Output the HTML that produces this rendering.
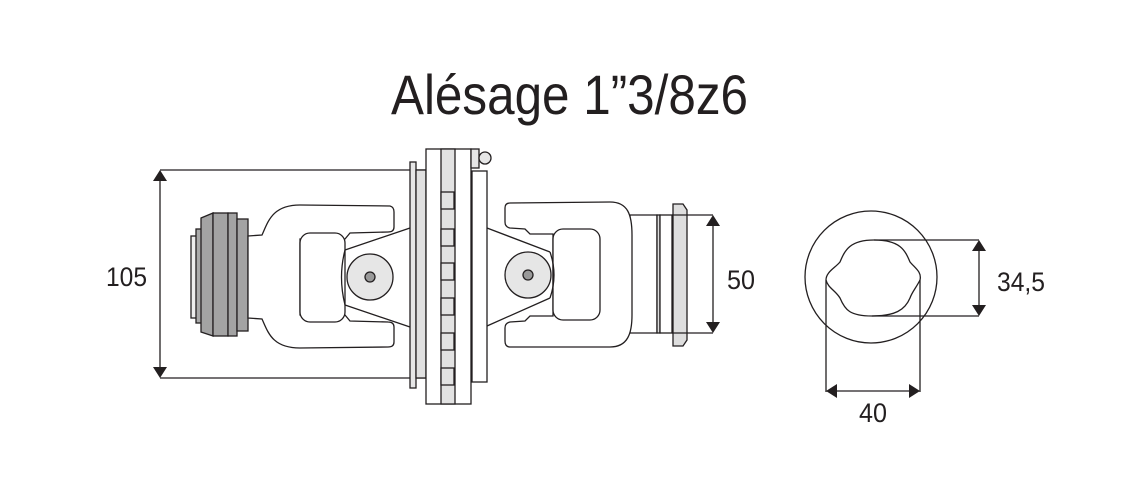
<!DOCTYPE html>
<html><head><meta charset="utf-8"><style>html,body{margin:0;padding:0;background:#fff}svg{display:block}</style></head>
<body>
<svg width="1140" height="500" viewBox="0 0 1140 500" xmlns="http://www.w3.org/2000/svg" font-family="Liberation Sans, sans-serif">
<rect width="1140" height="500" fill="#fff"/>
<text x="391" y="114" font-size="56" textLength="357" lengthAdjust="spacingAndGlyphs" fill="#231f20">Alésage 1”3/8z6</text>
<g stroke="#231f20" stroke-width="1.3" fill="none">
<line x1="160" y1="170" x2="426" y2="170"/>
<line x1="160" y1="378" x2="426" y2="378"/>
<line x1="160" y1="180" x2="160" y2="368"/>
<rect x="191" y="236" width="6" height="82" fill="#eee"/>
<rect x="196" y="229" width="6" height="94" fill="#aaa"/>
<path d="M201 218 L213 213 L213 336 L201 332 Z" fill="#a3a3a3"/>
<rect x="213" y="213" width="15" height="123" fill="#a3a3a3"/>
<rect x="228" y="213" width="9" height="123" fill="#a3a3a3"/>
<rect x="237" y="219" width="11" height="112" fill="#a3a3a3"/>
<path d="M248 236 L262 235 C268 222 272 205 300 205 L390 206 Q394 207 394 212 L394 227 Q394 232 388 232 L350 233 L345 239 L300 239 L300 315 L345 315 L350 321 L388 322 Q394 322 394 327 L394 342 Q394 347 388 347 L300 348 C272 348 268 332 262 319 L248 318 Z" fill="#fff"/>
<rect x="300" y="233" width="45" height="89" rx="10" fill="#fff"/>
<path d="M345 250 L410 228 M345 305 L410 327"/>
<path d="M345 250 Q338 277 345 305" />
<circle cx="370" cy="277" r="23" fill="#e6e6e6"/>
<circle cx="370" cy="277" r="5" fill="#999"/>
<rect x="410" y="162" width="6" height="226" fill="#e6e6e6"/>
<rect x="416" y="170" width="10" height="208" fill="#e0e0e0"/>
<rect x="426" y="149" width="45" height="255" fill="#fff"/>
<rect x="441" y="149" width="14" height="255" fill="#e2e2e2"/>
<rect x="441" y="192" width="13" height="17" fill="#e2e2e2"/>
<rect x="441" y="229" width="13" height="17" fill="#e2e2e2"/>
<rect x="441" y="263" width="13" height="17" fill="#e2e2e2"/>
<rect x="441" y="298" width="13" height="17" fill="#e2e2e2"/>
<rect x="441" y="333" width="13" height="17" fill="#e2e2e2"/>
<rect x="441" y="368" width="13" height="17" fill="#e2e2e2"/>
<rect x="471" y="149" width="8" height="19" fill="#e6e6e6"/>
<circle cx="485" cy="158" r="6" fill="#e6e6e6"/>
<rect x="472" y="171" width="15" height="211" fill="#fff"/>
<path d="M630 215 L657 215 L657 333 L630 333 Z" fill="#fff"/>
<path d="M510 203 L610 202 C628 202 632 215 632 235 L632 315 C632 333 628 347 610 347 L510 347 Q505 347 505 341 L505 328 Q505 323 510 322 L525 321 L530 316 L553 316 L553 234 L530 234 L525 229 L510 228 Q505 227 505 222 L505 208 Q505 203 510 203 Z" fill="#fff"/>
<rect x="553" y="229" width="47" height="91" rx="10" fill="#fff"/>
<path d="M487 228 L550 252 M487 326 L550 298"/>
<path d="M550 252 Q558 275 550 298"/>
<circle cx="528" cy="275" r="23" fill="#e6e6e6"/>
<circle cx="528" cy="275" r="5" fill="#999"/>
<rect x="657" y="215" width="3" height="118" fill="#ddd"/>
<rect x="660" y="215" width="12" height="118" fill="#fff"/>
<path d="M673 204 L683 204 L687 210 L687 340 L683 346 L673 346 Z" fill="#dedede"/>
<line x1="672" y1="215" x2="713" y2="215"/>
<line x1="672" y1="333" x2="713" y2="333"/>
<line x1="713" y1="224" x2="713" y2="324"/>
<circle cx="871" cy="277" r="66"/>
<path d="M874 240 C900 240 905 250 910 262 C915 268 922 272 920 280 C916 288 912 292 910 298 C905 310 895 316 872 316 C850 316 845 310 840 298 C835 290 828 288 826 280 C826 272 835 268 840 262 C845 250 850 240 874 240 Z"/>
<line x1="874" y1="240" x2="979" y2="240"/>
<line x1="872" y1="316" x2="979" y2="316"/>
<line x1="979" y1="249" x2="979" y2="307"/>
<line x1="826" y1="280" x2="826" y2="392"/>
<line x1="920" y1="280" x2="920" y2="392"/>
<line x1="835" y1="391" x2="911" y2="391"/>
</g>
<g fill="#231f20">
<path d="M160 170 L153 181 L167 181 Z"/>
<path d="M160 378 L153 367 L167 367 Z"/>
<path d="M713 215 L706 226 L720 226 Z"/>
<path d="M713 333 L706 322 L720 322 Z"/>
<path d="M979 240 L972 251 L986 251 Z"/>
<path d="M979 316 L972 305 L986 305 Z"/>
<path d="M826 391 L837 384 L837 398 Z"/>
<path d="M920 391 L909 384 L909 398 Z"/>
</g>
<g font-size="27" fill="#231f20">
<text x="106" y="286" textLength="41" lengthAdjust="spacingAndGlyphs">105</text>
<text x="727" y="289" textLength="28" lengthAdjust="spacingAndGlyphs">50</text>
<text x="997" y="291" textLength="48" lengthAdjust="spacingAndGlyphs">34,5</text>
<text x="859" y="422" textLength="28" lengthAdjust="spacingAndGlyphs">40</text>
</g>
</svg>
</body></html>
